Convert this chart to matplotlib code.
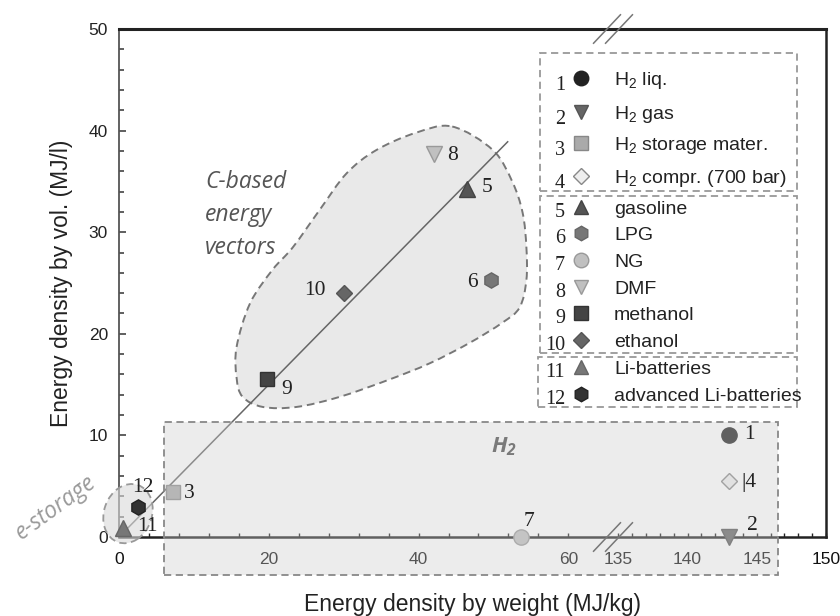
import numpy as np
import matplotlib
matplotlib.use("Agg")
import matplotlib.pyplot as plt
from matplotlib.patches import Rectangle, Ellipse, PathPatch
from matplotlib.path import Path
from matplotlib.ticker import FixedLocator, FixedFormatter

plt.rcParams['font.family'] = ['Liberation Sans', 'DejaVu Sans']
plt.rcParams['mathtext.fontset'] = 'custom'
plt.rcParams['mathtext.rm'] = 'Liberation Sans'
plt.rcParams['mathtext.it'] = 'Liberation Sans:italic'
plt.rcParams['mathtext.bf'] = 'Open Sans:bold:italic'

# ---------------- data ----------------
ids = ["1", "2", "3", "4", "5", "6", "7", "8", "9", "10", "11", "12"]
names = [r"H$_2$ liq.", r"H$_2$ gas", r"H$_2$ storage mater.", r"H$_2$ compr. (700 bar)",
         "gasoline", "LPG", "NG", "DMF", "methanol", "ethanol",
         "Li-batteries", "advanced Li-batteries"]
weight = [143.0, 143.0, 7.2, 143.0, 46.5, 49.7, 53.7, 42.0, 19.7, 30.1, 0.5, 2.5]   # MJ/kg
volume = [10.0, 0.0, 4.4, 5.5, 34.3, 25.3, 0.0, 37.7, 15.6, 24.0, 0.9, 3.0]        # MJ/l
point_labels = ["1", "2", "3", "|4", "5", "6", "7", "8", "9", "10", "11", "12"]

trend_x = [0.0, 51.9]
trend_y = [0.0, 38.9]

x_major = [0, 20, 40, 60, 135, 140, 145, 150]
x_major_labels = ["0", "20", "40", "60", "135", "140", "145", "150"]
x_minor = [v for v in range(4, 60, 4) if v not in x_major] + [v for v in range(136, 150) if v not in x_major]
y_major = [0, 10, 20, 30, 40, 50]
y_minor = [v for v in range(2, 50, 2) if v % 10]

# region outlines (data units)
cbased_x = [44.5, 49.9, 52.5, 53.9, 54.4, 54.4, 53.5, 51.2, 46.8, 41.5, 36.1, 29.5,
            23.7, 19.2, 16.5, 15.7, 15.7, 17.5, 20.5, 23.2, 26.8, 30.4, 34.4, 39.7]
cbased_y = [40.4, 38.1, 35.0, 31.9, 28.5, 25.3, 22.6, 21.1, 19.1, 17.1, 15.5, 13.8,
            12.8, 12.8, 13.8, 15.7, 18.7, 23.0, 26.3, 28.5, 32.2, 35.8, 38.1, 39.8]
h2_box_x = [6.0, 146.5]
h2_box_y = [-3.7, 11.3]
estore_center = (1.2, 2.3)
estore_size = (6.8, 5.6)

# ---------------- styles ----------------
markers = ['o', 'v', 's', 'D', '^', 'h', 'o', 'v', 's', 'D', '^', 'h']
faces = ['#222222', '#666666', '#aaaaaa', '#eeeeee', '#555555', '#777777',
         '#c0c0c0', '#c0c0c0', '#444444', '#666666', '#777777', '#333333']
edges = ['#222222', '#555555', '#888888', '#888888', '#444444', '#666666',
         '#999999', '#999999', '#333333', '#555555', '#666666', '#222222']
msizes = [11, 11, 10, 8.5, 11, 11, 11, 11, 10, 8.5, 11, 11]
# label offsets in points
lab_off = [(15, 1), (16.5, 8), (11.5, -0.7), (14.4, -0.7), (14.4, 0.7), (-13.7, -2),
           (5.8, 10.8), (13.7, -1.4), (14.4, -7.9), (-20.9, 2.2), (18, 0.7), (3.6, 13.7)]

# ---------------- broken x scale ----------------
GAP = 50 / 7.5
RATIO = 13.87 / 7.5


def fwd(x):
    x = np.asarray(x, dtype=float)
    return np.where(x <= 60, x,
                    np.where(x >= 135, 60 + GAP + (x - 135) * RATIO,
                             60 + (x - 60) * GAP / 75.0))


def inv(t):
    t = np.asarray(t, dtype=float)
    return np.where(t <= 60, t,
                    np.where(t >= 60 + GAP, 135 + (t - 60 - GAP) / RATIO,
                             60 + (t - 60) * 75.0 / GAP))


W, H = 840, 616
AX_L, AX_R, AX_T, AX_B = 119, 826, 29, 537
fig = plt.figure(figsize=(W / 100, H / 100), dpi=100)
ax = fig.add_axes([AX_L / W, 1 - AX_B / H, (AX_R - AX_L) / W, (AX_B - AX_T) / H])


def fx(px):
    return (px - AX_L) / (AX_R - AX_L)


def fy(py):
    return (AX_B - py) / (AX_B - AX_T)


ax.set_xscale('function', functions=(fwd, inv))
ax.set_xlim(0, 150)
ax.set_ylim(0, 50)

ax.xaxis.set_major_locator(FixedLocator(x_major))
ax.xaxis.set_major_formatter(FixedFormatter(x_major_labels))
ax.xaxis.set_minor_locator(FixedLocator(x_minor))
ax.yaxis.set_major_locator(FixedLocator(y_major))
ax.yaxis.set_minor_locator(FixedLocator(y_minor))

ax.tick_params(axis='x', which='both', direction='in', length=3, width=1, color='#222222',
               labelsize=12.5, pad=11, labelcolor='#111111')
ax.tick_params(axis='y', which='major', direction='in', length=5, width=1.2, color='#444444',
               labelsize=12.5, pad=8, labelcolor='#222222')
ax.tick_params(axis='y', which='minor', direction='in', length=3.5, width=1.2, color='#444444')

ax.spines['top'].set_linewidth(2.2)
ax.spines['top'].set_color('#222222')
ax.spines['right'].set_linewidth(1.8)
ax.spines['right'].set_color('#222222')
ax.spines['bottom'].set_linewidth(1.8)
ax.spines['bottom'].set_color('#222222')
ax.spines['left'].set_linewidth(1.3)
ax.spines['left'].set_color('#555555')

ax.set_xlabel("Energy density by weight (MJ/kg)", fontsize=16.5, color='#222222')
ax.set_ylabel("Energy density by vol. (MJ/l)", fontsize=16.5, color='#222222')
ax.xaxis.set_label_coords(0.5, fy(593))
ax.yaxis.set_label_coords(fx(73), 0.5)


# ---------------- regions ----------------
def closed_smooth_path(xs, ys):
    P = np.column_stack([xs, ys])
    n = len(P)
    verts = [P[0]]
    codes = [Path.MOVETO]
    for i in range(n):
        p0, p1, p2, p3 = P[i - 1], P[i], P[(i + 1) % n], P[(i + 2) % n]
        verts += [p1 + (p2 - p0) / 6.0, p2 - (p3 - p1) / 6.0, p2]
        codes += [Path.CURVE4] * 3
    verts.append(P[0])
    codes.append(Path.CLOSEPOLY)
    return Path(verts, codes)


cpatch = PathPatch(closed_smooth_path(cbased_x, cbased_y), transform=ax.transData,
                   facecolor='#e9e9e9', edgecolor='#777777', lw=1.4,
                   linestyle=(0, (4, 2.5)), zorder=1.8)
ax.add_patch(cpatch)

ell = Ellipse(estore_center, estore_size[0], estore_size[1], angle=25,
              facecolor=(0.85, 0.85, 0.85, 0.6), edgecolor='#999999', lw=1.3,
              linestyle=(0, (4, 2.5)), zorder=3, clip_on=False)
ax.add_patch(ell)

box = Rectangle((h2_box_x[0], h2_box_y[0]), h2_box_x[1] - h2_box_x[0], h2_box_y[1] - h2_box_y[0],
                facecolor=(0.8, 0.8, 0.8, 0.37), edgecolor='#888888', lw=1.3,
                linestyle=(0, (4, 2.5)), zorder=5, clip_on=False)
ax.add_patch(box)

# trend line
ax.plot(trend_x, trend_y, color='#666666', lw=1.1, zorder=2.5)

# ---------------- points ----------------
for i in range(len(ids)):
    ax.plot([weight[i]], [volume[i]], marker=markers[i], markersize=msizes[i],
            markerfacecolor=faces[i], markeredgecolor=edges[i], markeredgewidth=1.0,
            linestyle='none', zorder=4, clip_on=False)
    ax.annotate(point_labels[i], (weight[i], volume[i]), xytext=lab_off[i],
                textcoords='offset points', ha='center', va='center',
                fontsize=15.5, family='Liberation Serif', color='#222222', zorder=7,
                annotation_clip=False)

# ---------------- annotations ----------------
for txt, py in zip(["C-based", "energy", "vectors"], [182, 215, 248]):
    ax.text(fx(205), fy(py), txt, transform=ax.transAxes, ha='left', va='center',
            fontsize=16.5, style='italic', family=['Open Sans', 'DejaVu Sans'],
            color='#555555', zorder=7)
ax.text(fx(56), fy(508), "e-storage", transform=ax.transAxes, ha='center', va='center',
        rotation=36, fontsize=16.5, style='italic', family=['Open Sans', 'DejaVu Sans'],
        color='#9a9a9a', zorder=7)
ax.text(fx(504), fy(447), r"$\mathbf{H_2}$", transform=ax.transAxes, ha='center', va='center',
        fontsize=16, color='#7a7a7a', zorder=7)

# axis break marks
for xc in (fx(607), fx(619)):
    for yc in (1.0, 0.0):
        ax.plot([xc - 0.019, xc + 0.019], [yc - 0.028, yc + 0.028], transform=ax.transAxes,
                color='#777777', lw=1.1, clip_on=False, zorder=6)

# ---------------- legend ----------------
rows = [78, 112, 143, 176, 207, 233, 260, 287, 313, 340, 367, 394]
for i in range(len(ids)):
    r = rows[i]
    num_dy = 12 if i < 4 else 10
    ax.text(fx(565), fy(r + num_dy), ids[i], transform=ax.transAxes, ha='right',
            va='baseline', fontsize=14.5, family='Liberation Serif', color='#222222', zorder=7)
    ax.plot([fx(581)], [fy(r)], transform=ax.transAxes, marker=markers[i],
            markersize=msizes[i] * 0.95, markerfacecolor=faces[i], markeredgecolor=edges[i],
            markeredgewidth=1.0, linestyle='none', clip_on=False, zorder=7)
    ax.text(fx(614), fy(r + 7), names[i], transform=ax.transAxes, ha='left', va='baseline',
            fontsize=14, color='#222222', zorder=7)

legend_boxes = [((540, 53), (797, 191)), ((540, 196), (797, 353)), ((538, 357), (797, 407))]
for (x0, y0), (x1, y1) in legend_boxes:
    ax.add_patch(Rectangle((fx(x0), fy(y1)), fx(x1) - fx(x0), fy(y0) - fy(y1),
                           transform=ax.transAxes, facecolor='none', edgecolor='#999999',
                           lw=1.3, linestyle=(0, (4, 2.5)), zorder=6, clip_on=False))

fig.savefig("out.png", dpi=100)
